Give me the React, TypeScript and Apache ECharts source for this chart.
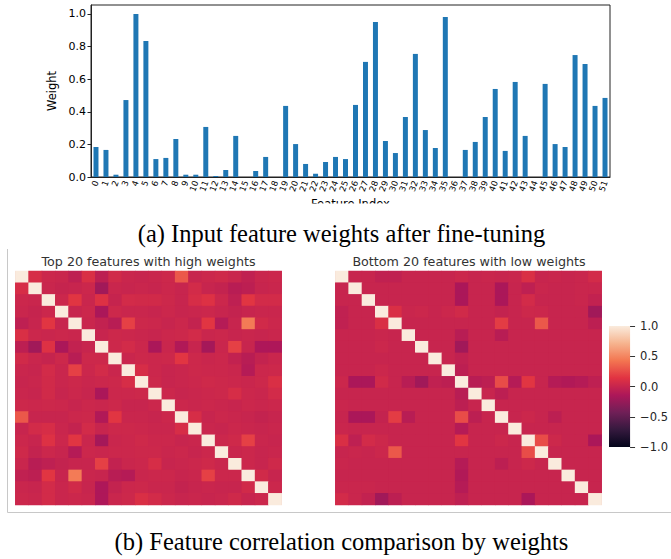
import React, { useEffect, useRef } from "react";
import * as echarts from "echarts";

const featureIndex: string[] = Array.from({ length: 52 }, (_, i) => String(i));
const weights: number[] = [
  0.184, 0.166, 0.014, 0.472, 1.0, 0.834, 0.11, 0.117, 0.233, 0.014,
  0.014, 0.307, 0.006, 0.043, 0.252, 0.0, 0.037, 0.123, 0.0, 0.436,
  0.202, 0.08, 0.02, 0.092, 0.123, 0.11, 0.442, 0.706, 0.951, 0.221,
  0.147, 0.368, 0.755, 0.288, 0.178, 0.982, 0.0, 0.166, 0.215, 0.368,
  0.54, 0.16, 0.583, 0.252, 0.0, 0.571, 0.202, 0.184, 0.748, 0.693,
  0.436, 0.485,
];
const weightTicks: number[] = [0, 0.2, 0.4, 0.6, 0.8, 1.0];
const colorbarTicks: number[] = [-1, -0.5, 0, 0.5, 1];

// Upper triangles (row i holds columns i+1..19) of the correlation matrices
const topCorrUpper: number[][] = [
  [0.08, 0.02, 0.01, -0.05, 0.1, -0.06, 0.05, 0.01, 0.0, 0.01, 0.03, 0.3, 0.0, 0.02, 0.04, 0.01, -0.04, 0.01, 0.02],
  [0.01, -0.01, 0.0, 0.02, -0.2, 0.01, 0.0, 0.01, 0.0, 0.02, 0.0, 0.06, 0.0, -0.02, -0.08, -0.06, 0.0, 0.01],
  [0.02, 0.15, 0.01, 0.12, -0.01, 0.06, 0.05, 0.05, 0.03, 0.0, 0.08, 0.12, 0.02, -0.05, 0.15, 0.06, 0.06],
  [0.0, 0.02, -0.15, 0.03, 0.01, 0.01, 0.0, 0.02, 0.0, 0.01, 0.02, 0.0, -0.02, 0.0, 0.01, 0.01],
  [0.01, -0.03, -0.08, 0.2, 0.03, 0.02, 0.0, 0.02, -0.02, 0.15, -0.1, 0.0, 0.45, 0.05, 0.02],
  [0.0, 0.03, 0.02, 0.01, 0.0, 0.02, 0.03, 0.06, 0.01, 0.02, 0.0, 0.01, 0.0, 0.01],
  [0.03, 0.06, 0.02, -0.15, 0.01, -0.12, 0.0, -0.18, 0.01, 0.2, 0.0, -0.14, -0.14],
  [0.01, 0.03, 0.02, 0.03, 0.15, 0.03, 0.01, 0.02, -0.03, -0.08, -0.02, 0.01],
  [0.08, 0.02, 0.0, 0.01, 0.03, 0.02, 0.02, 0.01, -0.1, 0.02, 0.03],
  [0.03, 0.0, 0.01, 0.02, 0.04, 0.03, 0.02, 0.01, 0.03, 0.1],
  [0.02, 0.0, 0.01, 0.02, 0.03, 0.08, 0.02, 0.01, 0.06],
  [0.02, 0.01, 0.02, 0.01, 0.0, 0.02, 0.01, 0.02],
  [0.08, 0.0, 0.02, 0.01, 0.0, -0.02, 0.0],
  [0.01, 0.0, 0.02, 0.01, 0.0, 0.01],
  [0.02, 0.04, 0.2, 0.01, 0.0],
  [0.01, 0.02, 0.0, 0.01],
  [0.02, 0.0, 0.04],
  [0.05, 0.0],
  [0.02],
];

const bottomCorrUpper: number[][] = [
  [0.0, 0.0, -0.04, -0.04, 0.0, 0.0, 0.0, 0.0, 0.02, 0.0, 0.01, 0.0, 0.01, 0.1, 0.0, 0.01, 0.0, 0.01, 0.06],
  [0.0, 0.0, 0.0, 0.0, 0.0, 0.0, 0.0, -0.15, 0.0, 0.0, -0.15, 0.0, -0.05, 0.01, 0.0, 0.0, 0.01, 0.01],
  [0.0, 0.0, 0.0, 0.0, 0.0, 0.0, -0.15, 0.0, 0.0, -0.15, 0.0, 0.06, 0.0, 0.0, 0.0, 0.01, -0.03],
  [0.1, 0.01, 0.02, 0.0, 0.02, 0.05, 0.0, 0.0, -0.02, 0.0, 0.03, 0.02, 0.0, 0.0, 0.0, -0.2],
  [0.0, 0.0, 0.0, 0.0, 0.0, 0.0, 0.0, 0.18, 0.0, 0.0, 0.3, 0.0, 0.0, 0.0, -0.06],
  [0.0, 0.0, 0.0, -0.08, 0.0, 0.0, -0.08, 0.0, 0.0, 0.0, 0.0, 0.0, 0.0, 0.0],
  [0.0, 0.0, -0.2, 0.0, 0.0, 0.0, 0.0, 0.0, 0.0, 0.0, 0.0, 0.0, 0.0],
  [0.0, -0.04, 0.0, 0.0, 0.0, 0.0, 0.0, 0.0, 0.0, 0.0, 0.0, 0.0],
  [-0.06, 0.0, 0.0, 0.0, 0.0, 0.0, 0.0, 0.0, 0.0, 0.0, 0.0],
  [-0.08, -0.06, 0.25, -0.1, 0.15, 0.0, -0.1, -0.12, -0.1, -0.05],
  [0.0, -0.06, 0.0, 0.0, 0.0, 0.0, 0.0, 0.0, 0.0],
  [0.0, 0.0, 0.0, 0.0, 0.0, 0.0, 0.0, 0.0],
  [0.0, 0.02, 0.0, -0.06, 0.0, 0.0, 0.0],
  [0.0, 0.0, 0.0, 0.0, 0.0, 0.0],
  [0.25, 0.03, 0.0, 0.0, -0.15],
  [0.0, 0.0, 0.0, 0.0],
  [0.0, 0.0, 0.0],
  [0.0, 0.0],
  [0.0],
];

const rocket: string[] = ["#03051A", "#35193E", "#701F57", "#AD1759", "#E13342", "#F37651", "#F6B48F", "#FAEBDD"];

function buildCells(upper: number[][]): number[][] {
  const n = upper.length + 1;
  const cells: number[][] = [];
  for (let i = 0; i < n; i++) {
    for (let j = 0; j < n; j++) {
      let v = 1;
      if (j > i) v = upper[i][j - i - 1];
      else if (j < i) v = upper[j][i - j - 1];
      cells.push([j, i, v]);
    }
  }
  return cells;
}

const idx20: string[] = Array.from({ length: 20 }, (_, i) => String(i));

export default function App() {
  const ref = useRef<HTMLDivElement>(null);
  useEffect(() => {
    document.body.style.margin = "0";
    if (!ref.current) return;
    const chart = echarts.init(ref.current, undefined, { renderer: "svg" });
    const font = "DejaVu Sans";
    const hmX = (gi: number) => ({
      type: "category" as const,
      gridIndex: gi,
      data: idx20,
      show: false,
    });
    const hmY = (gi: number) => ({
      type: "category" as const,
      gridIndex: gi,
      data: idx20,
      inverse: true,
      show: false,
    });
    const hmBg = "#C8214F";
    chart.setOption({
      animation: false,
      textStyle: { fontFamily: font },
      grid: [
        { left: 91, top: 5, width: 519, height: 172, show: true, borderColor: "#222", borderWidth: 1, backgroundColor: "transparent" },
        { left: 15.3, top: 271, width: 266.4, height: 234, show: true, borderWidth: 0, backgroundColor: hmBg },
        { left: 335.3, top: 271, width: 266.4, height: 234, show: true, borderWidth: 0, backgroundColor: hmBg },
        {
          left: 609, top: 326, width: 23, height: 121, show: true, borderWidth: 0,
          backgroundColor: {
            type: "linear", x: 0, y: 0, x2: 0, y2: 1,
            colorStops: rocket.slice().reverse().map((c, k) => ({ offset: k / (rocket.length - 1), color: c })),
          },
        },
      ],
      xAxis: [
        {
          type: "category",
          gridIndex: 0,
          data: featureIndex,
          name: "Feature Index",
          nameLocation: "middle",
          nameGap: 21,
          nameTextStyle: { fontSize: 11.5, color: "#000" },
          axisLine: { lineStyle: { color: "#222" } },
          axisTick: { alignWithLabel: true, length: 3.5, lineStyle: { color: "#222" } },
          axisLabel: { interval: 0, rotate: 70, fontSize: 8.5, color: "#000", margin: 4 },
        },
        hmX(1),
        hmX(2),
        { type: "category", gridIndex: 3, data: ["c"], show: false },
      ],
      yAxis: [
        {
          type: "value",
          gridIndex: 0,
          min: 0,
          max: 1.055,
          interval: 0.2,
          name: "Weight",
          nameLocation: "middle",
          nameGap: 33,
          nameTextStyle: { fontSize: 11.5, color: "#000" },
          axisLine: { show: true, lineStyle: { color: "#222" } },
          axisTick: { show: true, length: 3.5, lineStyle: { color: "#222" } },
          splitLine: { show: false },
          axisLabel: {
            fontSize: 11,
            color: "#000",
            margin: 5,
            showMaxLabel: false,
            formatter: (v: number) => (weightTicks.some((t) => Math.abs(t - v) < 1e-6) ? v.toFixed(1) : ""),
          },
        },
        hmY(1),
        hmY(2),
        {
          type: "value",
          gridIndex: 3,
          position: "right",
          min: -1,
          max: 1,
          interval: 0.5,
          axisLine: { show: false },
          axisTick: { show: true, length: 5, lineStyle: { color: "#333" } },
          splitLine: { show: false },
          axisLabel: {
            fontSize: 11.5,
            color: "#262626",
            margin: 10,
            formatter: (v: number) => {
              const t = colorbarTicks.find((c) => Math.abs(c - v) < 1e-6);
              return t === undefined ? "" : t.toFixed(1).replace("-", "\u2212");
            },
          },
        },
      ],
      visualMap: {
        show: false,
        type: "continuous",
        min: -1,
        max: 1,
        seriesIndex: [1, 2],
        dimension: 2,
        inRange: { color: rocket },
      },
      series: [
        {
          type: "bar",
          xAxisIndex: 0,
          yAxisIndex: 0,
          data: weights,
          barWidth: "50%",
          itemStyle: { color: "#1f77b4" },
        },
        {
          type: "heatmap",
          xAxisIndex: 1,
          yAxisIndex: 1,
          data: buildCells(topCorrUpper),
          progressive: 0,
          itemStyle: { borderWidth: 0 },
        },
        {
          type: "heatmap",
          xAxisIndex: 2,
          yAxisIndex: 2,
          data: buildCells(bottomCorrUpper),
          progressive: 0,
          itemStyle: { borderWidth: 0 },
        },
        { type: "scatter", xAxisIndex: 3, yAxisIndex: 3, data: [] },
      ],
      graphic: [
        { type: "rect", z: 100, shape: { x: 280, y: 203.5, width: 140, height: 12 }, style: { fill: "#fff" } },
        {
          type: "text", z: 100, x: 341.5, y: 233,
          style: { text: "(a) Input feature weights after fine-tuning", font: "24.5px 'Liberation Serif'", fill: "#000", textAlign: "center", textVerticalAlign: "middle" },
        },
        {
          type: "text", z: 100, x: 341.5, y: 541,
          style: { text: "(b) Feature correlation comparison by weights", font: "24.5px 'Liberation Serif'", fill: "#000", textAlign: "center", textVerticalAlign: "middle" },
        },
        {
          type: "text", z: 100, x: 148.5, y: 261,
          style: { text: "Top 20 features with high weights", font: "12.7px 'DejaVu Sans'", fill: "#333", textAlign: "center", textVerticalAlign: "middle" },
        },
        {
          type: "text", z: 100, x: 469, y: 261,
          style: { text: "Bottom 20 features with low weights", font: "12.7px 'DejaVu Sans'", fill: "#333", textAlign: "center", textVerticalAlign: "middle" },
        },
        { type: "line", z: 100, shape: { x1: 7.5, y1: 249, x2: 7.5, y2: 512.5 }, style: { stroke: "#c8c8c8", lineWidth: 1 } },
        { type: "line", z: 100, shape: { x1: 7.5, y1: 512.5, x2: 671, y2: 512.5 }, style: { stroke: "#c8c8c8", lineWidth: 1 } },
      ],
    });
    return () => chart.dispose();
  }, []);
  return <div ref={ref} style={{ width: 671, height: 559 }} />;
}
